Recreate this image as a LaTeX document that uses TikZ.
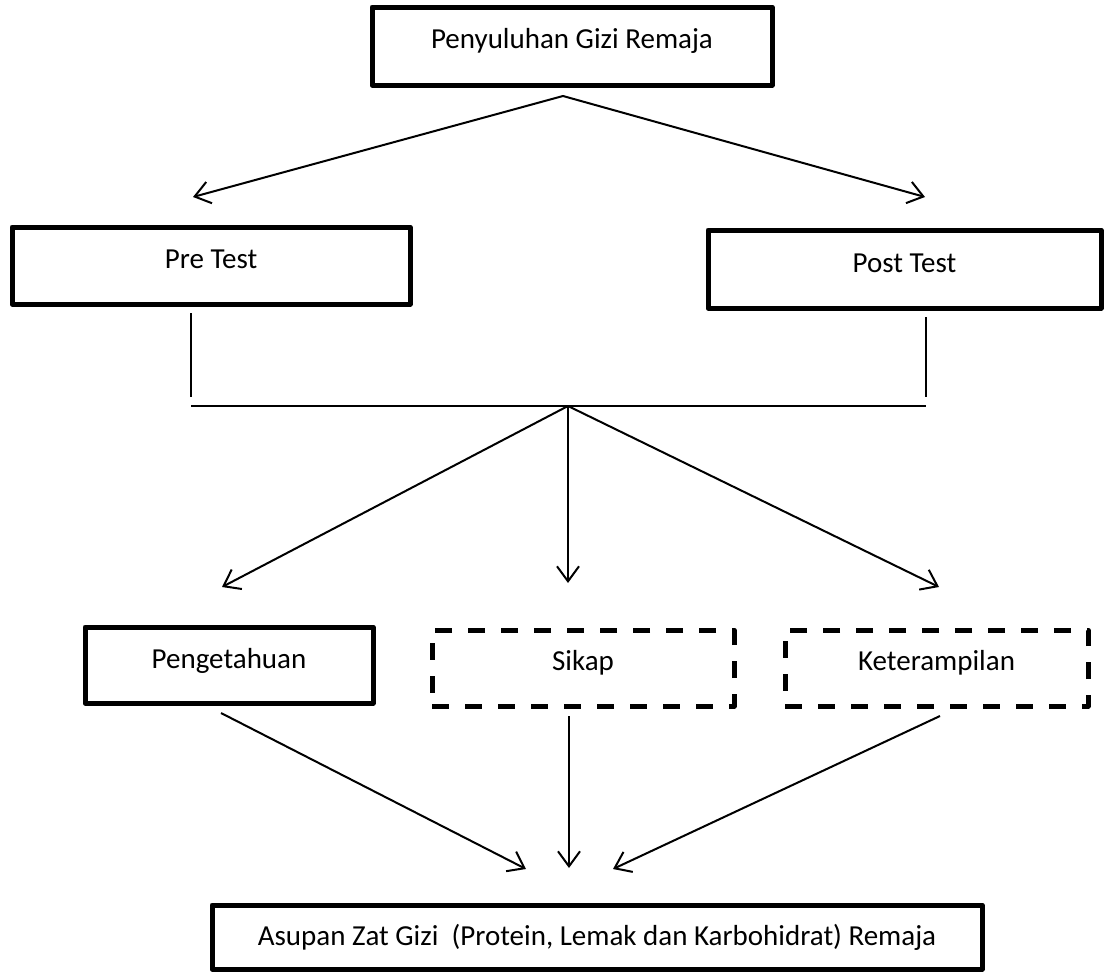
\documentclass[tikz,border=0pt]{standalone}
\usepackage{fontspec}
\setmainfont{Carlito}
\usetikzlibrary{arrows.meta}
\tikzset{
  box/.style={draw, line width=5pt, line join=round, inner sep=0pt, outer sep=0pt,
    anchor=north west, font=\fontsize{29}{34}\selectfont},
  dbox/.style={box, dash pattern=on 17pt off 16pt},
  conn/.style={line width=2pt},
  arr/.style={conn, -{Straight Barb[length=15pt,width=22pt]}}
}
\begin{document}
\begin{tikzpicture}[x=1pt,y=-1pt]
\useasboundingbox (0,0) rectangle (1106,972);
% boxes
\node[box, minimum width=400pt, text height=41pt, text depth=37pt] (top) at (372,7) {Penyuluhan Gizi Remaja};
\node[box, minimum width=398pt, text height=41pt, text depth=36pt] (pre) at (12,227) {Pre Test};
\node[box, minimum width=393pt, text height=42pt, text depth=36pt] (post) at (708,230) {Post Test};
\node[box, minimum width=288pt, text height=41pt, text depth=35pt] (peng) at (85,627) {Pengetahuan};
\node[dbox, minimum width=302pt, text height=40pt, text depth=36pt] (sikap) at (432,630) {Sikap};
\node[dbox, minimum width=303pt, text height=40pt, text depth=36pt] (ket) at (785,630) {Keterampilan};
\node[box, minimum width=770pt, text height=40pt, text depth=24pt] (asupan) at (212,905) {Asupan Zat Gizi\ \ (Protein, Lemak dan Karbohidrat) Remaja};
% coordinates
\coordinate (apex) at (563,96);
\coordinate (tpre) at (193,197);
\coordinate (tpost) at (925,197);
\coordinate (vpre1) at (191,313);
\coordinate (vpre2) at (191,397);
\coordinate (vpost1) at (926,317);
\coordinate (vpost2) at (926,397);
\coordinate (hl) at (191,406);
\coordinate (hr) at (926,406);
\coordinate (hub) at (568,406);
\coordinate (tpeng) at (222,587);
\coordinate (tsikap) at (568,583);
\coordinate (tket) at (939,587);
\coordinate (speng) at (221,713);
\coordinate (ssikap) at (569,716);
\coordinate (sket) at (940,716);
\coordinate (b1) at (526,869);
\coordinate (b2) at (569,868);
\coordinate (b3) at (613,869);
% connectors
\draw[arr] (apex) -- (tpre);
\draw[arr] (apex) -- (tpost);
\draw[conn] (vpre1) -- (vpre2);
\draw[conn] (vpost1) -- (vpost2);
\draw[conn] (hl) -- (hr);
\draw[arr] (hub) -- (tpeng);
\draw[arr] (hub) -- (tsikap);
\draw[arr] (hub) -- (tket);
\draw[arr] (speng) -- (b1);
\draw[arr] (ssikap) -- (b2);
\draw[arr] (sket) -- (b3);
\end{tikzpicture}
\end{document}
